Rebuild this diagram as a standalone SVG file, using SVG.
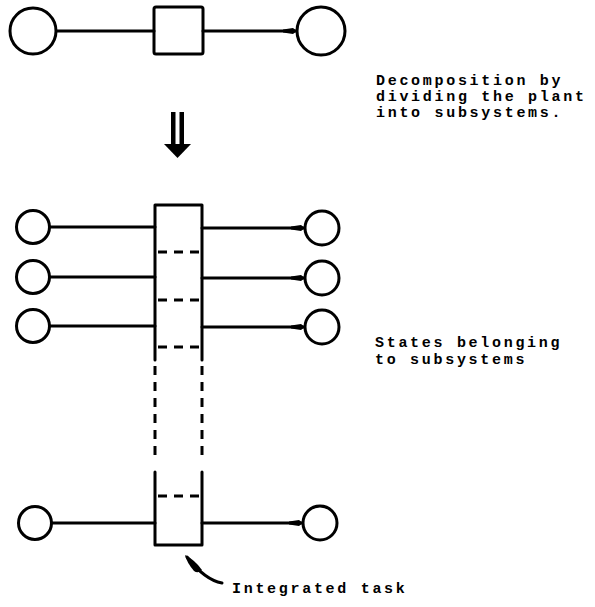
<svg xmlns="http://www.w3.org/2000/svg" width="595" height="607" viewBox="0 0 595 607">
<defs>
<style>
.s{fill:none;stroke:#000;stroke-width:3;stroke-linecap:round;stroke-linejoin:round}
.c{fill:#fff;stroke:#000;stroke-width:3}
.d{fill:none;stroke:#000;stroke-width:3;stroke-dasharray:9 7}
.t{font-family:"Liberation Mono","DejaVu Sans Mono",monospace;font-weight:bold;font-size:15px;letter-spacing:2.7px;fill:#000}
</style>
<marker id="h" viewBox="0 0 14 8" refX="14" refY="4" markerWidth="14" markerHeight="8" markerUnits="userSpaceOnUse" orient="auto">
<path d="M0,2.5 L10,1 L14,4 L10,7 L0,5.5 Z" fill="#000"/>
</marker>
</defs>
<rect width="595" height="607" fill="#fff"/>
<g id="connectors">
<line class="s" x1="56" y1="31" x2="154" y2="31"/>
<line class="s" x1="203" y1="31" x2="297" y2="31" marker-end="url(#h)"/>
<line class="s" x1="50" y1="227" x2="155" y2="227"/>
<line class="s" x1="50" y1="277" x2="155" y2="277"/>
<line class="s" x1="50" y1="326" x2="155" y2="326"/>
<line class="s" x1="52" y1="523" x2="155" y2="523"/>
<line class="s" x1="202" y1="228" x2="305" y2="228" marker-end="url(#h)"/>
<line class="s" x1="202" y1="278" x2="305" y2="278" marker-end="url(#h)"/>
<line class="s" x1="202" y1="327" x2="305" y2="327" marker-end="url(#h)"/>
<line class="s" x1="202" y1="523" x2="303" y2="523" marker-end="url(#h)"/>
</g>
<g id="top-in"><circle class="c" cx="33" cy="31" r="23"/></g>
<g id="top-task"><rect class="s" x="154" y="7" width="49" height="47" rx="2"/></g>
<g id="top-out"><circle class="c" cx="321" cy="31" r="24"/></g>
<g id="refine-arrow">
<rect x="171" y="112" width="4.5" height="34" fill="#000"/>
<rect x="179.5" y="112" width="4.5" height="34" fill="#000"/>
<path d="M164,144 L191,144 L177.5,158 Z" fill="#000"/>
</g>
<g id="label-decomposition">
<text class="t" x="376" y="85">Decomposition by</text>
<text class="t" x="376" y="101">dividing the plant</text>
<text class="t" x="376" y="117">into subsystems.</text>
</g>
<g id="integrated-task">
<path class="s" d="M155,360 L155,205 L202,205 L202,360"/>
<path class="d" d="M155,366 L155,462"/>
<path class="d" d="M202,366 L202,462"/>
<path class="s" d="M155,472 L155,545 L202,545 L202,472"/>
<path class="d" d="M158,252 L199,252"/>
<path class="d" d="M158,300 L199,300"/>
<path class="d" d="M158,347 L199,347"/>
<path class="d" d="M158,496 L199,496"/>
</g>
<g id="in1"><circle class="c" cx="33" cy="227" r="16.5"/></g>
<g id="in2"><circle class="c" cx="33" cy="277" r="16.5"/></g>
<g id="in3"><circle class="c" cx="33" cy="326" r="16.5"/></g>
<g id="in4"><circle class="c" cx="35" cy="523" r="16.5"/></g>
<g id="out1"><circle class="c" cx="322" cy="228" r="17"/></g>
<g id="out2"><circle class="c" cx="322" cy="278" r="17"/></g>
<g id="out3"><circle class="c" cx="322" cy="327" r="17"/></g>
<g id="out4"><circle class="c" cx="320" cy="523" r="17"/></g>
<g id="label-states">
<text class="t" x="375" y="347">States belonging</text>
<text class="t" x="375" y="364">to subsystems</text>
</g>
<g id="label-integrated">
<path class="s" d="M222,583 Q205,580 187,557"/>
<path d="M185,555 Q195,560 202,570 Q198,574 194,571 Q187,563 185,555 Z" fill="#000"/>
<text class="t" x="232" y="593">Integrated task</text>
</g>
</svg>
